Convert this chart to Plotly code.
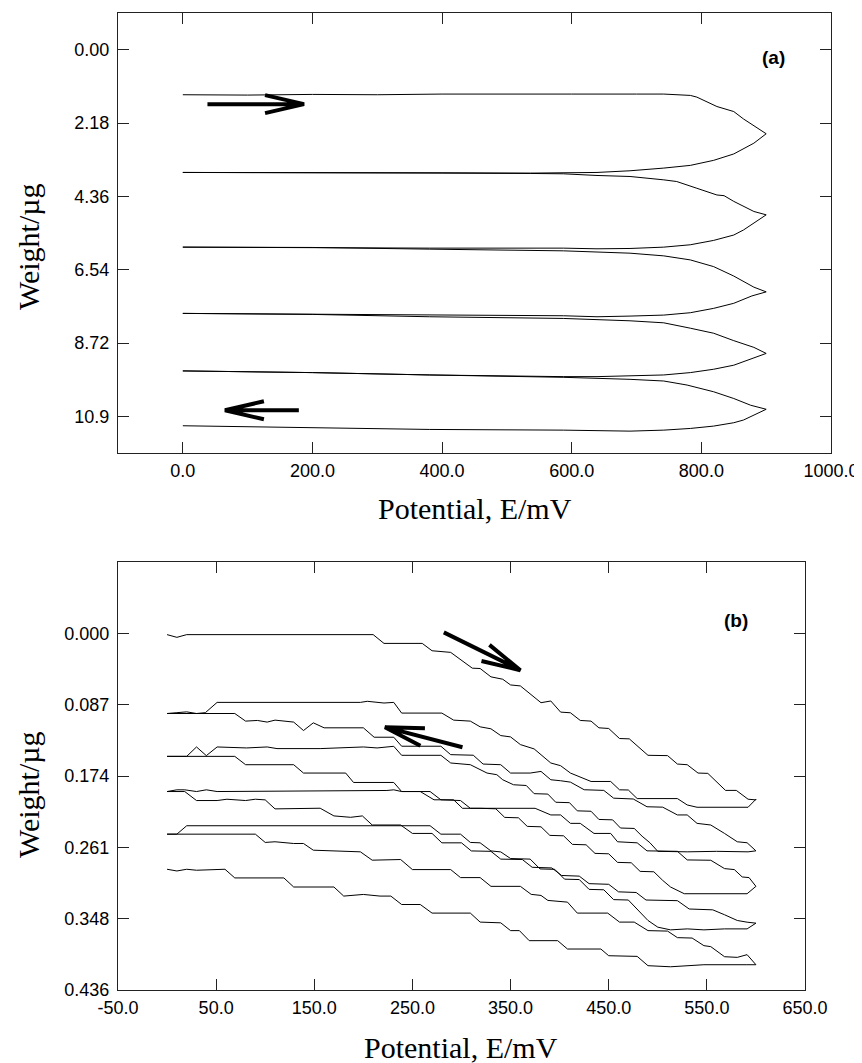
import math
import plotly.graph_objects as go

# ---------------- Panel (a): potential (mV) vs weight (ug) ----------------
a_fwd1_x = [0, 100, 200, 300, 400, 500, 600, 700, 742, 783, 793, 824, 850, 865, 900]
a_fwd1_y = [1.34, 1.35, 1.33, 1.34, 1.32, 1.33, 1.32, 1.32, 1.32, 1.36, 1.41, 1.69, 1.84, 2.06, 2.50]
a_ret1_x = [900, 881, 850, 819, 783, 742, 690, 639, 587, 536, 400, 200, 0]
a_ret1_y = [2.50, 2.78, 3.10, 3.29, 3.44, 3.52, 3.60, 3.65, 3.67, 3.67, 3.66, 3.66, 3.65]
a_fwd2_x = [0, 200, 400, 536, 587, 639, 690, 742, 762, 793, 824, 835, 850, 881, 900]
a_fwd2_y = [3.65, 3.66, 3.67, 3.68, 3.69, 3.74, 3.77, 3.87, 3.92, 4.12, 4.32, 4.34, 4.51, 4.81, 4.91]
a_ret2_x = [900, 865, 850, 819, 783, 742, 690, 639, 587, 381, 200, 0]
a_ret2_y = [4.91, 5.36, 5.51, 5.67, 5.80, 5.87, 5.91, 5.92, 5.90, 5.90, 5.88, 5.87]
a_fwd3_x = [0, 200, 381, 587, 690, 742, 783, 819, 850, 881, 900]
a_fwd3_y = [5.87, 5.88, 5.93, 5.98, 6.05, 6.13, 6.25, 6.45, 6.73, 7.06, 7.20]
a_ret3_x = [900, 883, 878, 850, 819, 783, 742, 690, 639, 587, 381, 0]
a_ret3_y = [7.20, 7.29, 7.32, 7.54, 7.69, 7.82, 7.89, 7.92, 7.94, 7.91, 7.88, 7.84]
a_fwd4_x = [0, 200, 381, 587, 690, 742, 783, 819, 850, 881, 900]
a_fwd4_y = [7.84, 7.87, 7.94, 7.99, 8.06, 8.12, 8.28, 8.43, 8.65, 8.85, 9.03]
a_ret4_x = [900, 865, 850, 819, 783, 742, 690, 639, 587, 381, 200, 0]
a_ret4_y = [9.03, 9.28, 9.38, 9.50, 9.60, 9.67, 9.70, 9.72, 9.72, 9.67, 9.60, 9.55]
a_fwd5_x = [0, 200, 381, 587, 690, 742, 778, 819, 850, 876, 900]
a_fwd5_y = [9.55, 9.60, 9.67, 9.74, 9.80, 9.85, 9.97, 10.17, 10.37, 10.57, 10.69]
a_ret5_x = [900, 865, 850, 819, 783, 742, 690, 587, 381, 200, 0]
a_ret5_y = [10.69, 11.01, 11.09, 11.19, 11.26, 11.31, 11.34, 11.31, 11.29, 11.24, 11.18]

a_xticks = [0, 200, 400, 600, 800, 1000]
a_xticktext = ["0.0", "200.0", "400.0", "600.0", "800.0", "1000.0"]
a_yticks = [0.0, 2.18, 4.36, 6.54, 8.72, 10.9]
a_yticktext = ["0.00", "2.18", "4.36", "6.54", "8.72", "10.9"]
a_xrange = [-100, 1000]
a_yrange = [11.99, -1.09]
a_arrows = [((38, 1.62), (187, 1.62)), ((179, 10.72), (65, 10.72))]

# ---------------- Panel (b) ----------------
b_f1_x = [0, 10, 20, 210, 221, 260, 270, 289, 311, 319, 330, 342, 350, 360, 381, 391, 401, 411, 421, 432,
          440, 450, 461, 471, 490, 510, 520, 530, 541, 551, 569, 580, 592, 600]
b_f1_y = [0.0016, 0.0049, 0.0016, 0.0016, 0.0123, 0.0123, 0.0213, 0.0233, 0.0426, 0.0430, 0.0532, 0.0561,
          0.0631, 0.0643, 0.0848, 0.0827, 0.0963, 0.0971, 0.1065, 0.1073, 0.1155, 0.1163, 0.1286, 0.1290,
          0.1491, 0.1495, 0.1598, 0.1606, 0.1708, 0.1712, 0.1920, 0.1920, 0.2028, 0.2036]
b_r1_x = [0, 10, 20, 30, 39, 51, 197, 204, 221, 231, 239, 280, 292, 309, 319, 330, 340, 350, 360, 374,
          391, 401, 411, 432, 452, 461, 470, 479, 520, 530, 540, 560, 575, 592, 600]
b_r1_y = [0.0980, 0.0970, 0.0960, 0.0980, 0.0970, 0.0844, 0.0844, 0.0831, 0.0852, 0.0844, 0.0975, 0.0975,
          0.1061, 0.1073, 0.1143, 0.1167, 0.1250, 0.1266, 0.1360, 0.1413, 0.1585, 0.1618, 0.1708, 0.1811,
          0.1811, 0.1913, 0.1915, 0.2020, 0.2020, 0.2098, 0.2126, 0.2118, 0.2126, 0.2126, 0.2028]
b_f2_x = [0, 69, 80, 92, 102, 110, 129, 139, 149, 160, 200, 211, 231, 239, 279, 289, 312, 322, 340, 350,
          370, 381, 391, 401, 411, 425, 445, 455, 475, 489, 505, 520, 530, 540, 554, 568, 581, 591, 600]
b_f2_y = [0.0980, 0.0980, 0.1073, 0.1065, 0.1085, 0.1061, 0.1085, 0.1188, 0.1094, 0.1155, 0.1155, 0.1270,
          0.1270, 0.1380, 0.1380, 0.1483, 0.1490, 0.1598, 0.1606, 0.1708, 0.1708, 0.1688, 0.1790, 0.1802,
          0.1819, 0.1912, 0.1920, 0.2015, 0.2025, 0.2120, 0.2125, 0.2220, 0.2220, 0.2323, 0.2343, 0.2446,
          0.2548, 0.2560, 0.2659]
b_r2_x = [0, 20, 30, 40, 51, 81, 102, 112, 156, 200, 214, 231, 239, 279, 289, 309, 326, 336, 342, 353,
          366, 374, 388, 396, 410, 418, 432, 440, 454, 462, 476, 484, 492, 500, 530, 560, 592, 600]
b_r2_y = [0.1504, 0.1504, 0.1389, 0.1495, 0.1389, 0.1401, 0.1389, 0.1409, 0.1409, 0.1389, 0.1401, 0.1381,
          0.1491, 0.1491, 0.1585, 0.1606, 0.1708, 0.1728, 0.1790, 0.1851, 0.1860, 0.1960, 0.1965, 0.2065,
          0.2070, 0.2170, 0.2175, 0.2275, 0.2280, 0.2380, 0.2385, 0.2480, 0.2560, 0.2665, 0.2671, 0.2665,
          0.2671, 0.2659]
b_f3_x = [0, 69, 80, 129, 139, 182, 190, 231, 239, 258, 272, 292, 301, 319, 375, 391, 401, 411, 421, 435,
          452, 459, 479, 489, 520, 530, 554, 568, 578, 586, 593, 600]
b_f3_y = [0.1504, 0.1504, 0.1606, 0.1606, 0.1708, 0.1708, 0.1823, 0.1823, 0.1934, 0.1934, 0.2035, 0.2035,
          0.2139, 0.2139, 0.2139, 0.2220, 0.2220, 0.2323, 0.2323, 0.2446, 0.2446, 0.2548, 0.2561, 0.2659,
          0.2665, 0.2770, 0.2774, 0.2876, 0.2888, 0.2978, 0.2986, 0.3093]
b_r3_x = [0, 10, 18, 30, 40, 51, 224, 231, 239, 268, 279, 299, 309, 319, 335, 344, 358, 367, 381, 390,
          404, 413, 427, 436, 450, 459, 473, 482, 496, 505, 513, 527, 591, 600]
b_r3_y = [0.1934, 0.1913, 0.1913, 0.1934, 0.1913, 0.1934, 0.1921, 0.1913, 0.1934, 0.1934, 0.2035, 0.2044,
          0.2139, 0.2139, 0.2145, 0.2250, 0.2255, 0.2360, 0.2365, 0.2470, 0.2475, 0.2580, 0.2585, 0.2690,
          0.2695, 0.2800, 0.2805, 0.2910, 0.2915, 0.3020, 0.3101, 0.3183, 0.3183, 0.3093]
b_f4_x = [0, 18, 30, 51, 61, 80, 90, 100, 110, 156, 170, 187, 199, 209, 238, 250, 270, 280, 300, 310,
          330, 340, 362, 372, 392, 402, 420, 430, 450, 460, 478, 488, 520, 532, 556, 568, 581, 591, 600]
b_f4_y = [0.1934, 0.1934, 0.2044, 0.2044, 0.2028, 0.2044, 0.2028, 0.2036, 0.2146, 0.2138, 0.2232, 0.2249,
          0.2232, 0.2343, 0.2343, 0.2446, 0.2446, 0.2561, 0.2561, 0.2660, 0.2665, 0.2760, 0.2765, 0.2860,
          0.2868, 0.2960, 0.2968, 0.3060, 0.3068, 0.3160, 0.3168, 0.3260, 0.3268, 0.3370, 0.3380, 0.3440,
          0.3510, 0.3531, 0.3543]
b_r4_x = [0, 10, 20, 268, 279, 299, 309, 319, 330, 340, 350, 370, 380, 395, 405, 420, 430, 445, 455, 470,
          480, 490, 500, 513, 530, 547, 568, 591, 600]
b_r4_y = [0.2455, 0.2455, 0.2352, 0.2352, 0.2455, 0.2455, 0.2556, 0.2561, 0.2660, 0.2672, 0.2753, 0.2760,
          0.2880, 0.2885, 0.3005, 0.3010, 0.3130, 0.3135, 0.3255, 0.3260, 0.3380, 0.3510, 0.3592, 0.3625,
          0.3613, 0.3625, 0.3613, 0.3613, 0.3543]
b_f5_x = [0, 90, 100, 110, 129, 139, 149, 197, 209, 221, 238, 250, 268, 289, 299, 319, 330, 360, 371, 381,
          388, 408, 418, 449, 461, 476, 490, 510, 520, 535, 547, 554, 568, 581, 591, 600]
b_f5_y = [0.2455, 0.2455, 0.2556, 0.2548, 0.2569, 0.2569, 0.2651, 0.2671, 0.2773, 0.2773, 0.2765, 0.2888,
          0.2884, 0.2888, 0.2986, 0.2986, 0.3093, 0.3093, 0.3191, 0.3204, 0.3265, 0.3286, 0.3420, 0.3420,
          0.3530, 0.3530, 0.3634, 0.3640, 0.3720, 0.3725, 0.3818, 0.3830, 0.3953, 0.3961, 0.3928, 0.4051]
b_r5_x = [0, 10, 20, 30, 41, 51, 59, 69, 119, 129, 170, 180, 190, 200, 217, 228, 239, 258, 270, 309,
          319, 340, 350, 359, 369, 398, 408, 442, 450, 479, 490, 513, 547, 590, 600]
b_r5_y = [0.2884, 0.2905, 0.2884, 0.2896, 0.2884, 0.2888, 0.2884, 0.2990, 0.2990, 0.3101, 0.3101, 0.3212,
          0.3204, 0.3192, 0.3212, 0.3212, 0.3315, 0.3315, 0.3420, 0.3420, 0.3530, 0.3539, 0.3634, 0.3634,
          0.3757, 0.3757, 0.3859, 0.3859, 0.3941, 0.3949, 0.4063, 0.4076, 0.4051, 0.4051, 0.4051]

b_xticks = [-50, 50, 150, 250, 350, 450, 550, 650]
b_xticktext = ["-50.0", "50.0", "150.0", "250.0", "350.0", "450.0", "550.0", "650.0"]
b_yticks = [0.0, 0.0872, 0.1744, 0.2616, 0.3488, 0.436]
b_yticktext = ["0.000", "0.087", "0.174", "0.261", "0.348", "0.436"]
b_xrange = [-50, 650]
b_yrange = [0.436, -0.0872]
b_arrows = [((282, -0.0012), (360, 0.0451)), ((301, 0.1393), (222, 0.1147))]

# ---------------- layout geometry (page pixels; page body has an 8 px margin) ----------------
OFF = 8
W, H = 862 - OFF, 1063 - OFF


def px_x(p):
    return (p - OFF) / W


def px_y(p):
    return 1 - (p - OFF) / H


a_dom_x = [px_x(118), px_x(831)]
a_dom_y = [px_y(453), px_y(13)]
b_dom_x = [px_x(118), px_x(805)]
b_dom_y = [px_y(990), px_y(562)]

fig = go.Figure()

a_x, a_y = [], []
for xs, ys in [(a_fwd1_x, a_fwd1_y), (a_ret1_x, a_ret1_y), (a_fwd2_x, a_fwd2_y), (a_ret2_x, a_ret2_y),
               (a_fwd3_x, a_fwd3_y), (a_ret3_x, a_ret3_y), (a_fwd4_x, a_fwd4_y), (a_ret4_x, a_ret4_y),
               (a_fwd5_x, a_fwd5_y), (a_ret5_x, a_ret5_y)]:
    a_x += xs
    a_y += ys
fig.add_trace(go.Scatter(x=a_x, y=a_y, mode="lines", line=dict(color="black", width=1),
                         xaxis="x", yaxis="y", showlegend=False, hoverinfo="skip"))

b_x, b_y = [], []
for (fx, fy), (rx, ry) in [((b_f1_x, b_f1_y), (b_r1_x, b_r1_y)), ((b_f2_x, b_f2_y), (b_r2_x, b_r2_y)),
                           ((b_f3_x, b_f3_y), (b_r3_x, b_r3_y)), ((b_f4_x, b_f4_y), (b_r4_x, b_r4_y)),
                           ((b_f5_x, b_f5_y), (b_r5_x, b_r5_y))]:
    b_x += fx + rx[::-1]
    b_y += fy + ry[::-1]
fig.add_trace(go.Scatter(x=b_x, y=b_y, mode="lines", line=dict(color="black", width=1),
                         xaxis="x2", yaxis="y2", showlegend=False, hoverinfo="skip"))


def arrow_path(tail, head, xr, yr, dx_dom, dy_dom, length=40, ang=13):
    sx = (dx_dom[1] - dx_dom[0]) * W / (xr[1] - xr[0])
    sy = -(dy_dom[1] - dy_dom[0]) * H / (yr[1] - yr[0])  # pixels down per data unit
    px = (head[0] - tail[0]) * sx
    py = (head[1] - tail[1]) * sy
    n = math.hypot(px, py)
    ux, uy = px / n, py / n
    pts = []
    for s in (1, -1):
        t = math.radians(ang) * s
        bx = ux * math.cos(t) - uy * math.sin(t)
        by = ux * math.sin(t) + uy * math.cos(t)
        pts.append((head[0] - length * bx / sx, head[1] - length * by / sy))
    return (f"M{tail[0]},{tail[1]} L{head[0]},{head[1]} "
            f"M{pts[0][0]},{pts[0][1]} L{head[0]},{head[1]} L{pts[1][0]},{pts[1][1]}")


shapes = []
for t, h in a_arrows:
    shapes.append(dict(type="path", xref="x", yref="y",
                       path=arrow_path(t, h, a_xrange, a_yrange, a_dom_x, a_dom_y),
                       line=dict(color="black", width=4)))
for t, h in b_arrows:
    shapes.append(dict(type="path", xref="x2", yref="y2",
                       path=arrow_path(t, h, b_xrange, b_yrange, b_dom_x, b_dom_y),
                       line=dict(color="black", width=4)))

tickfont = dict(family="Liberation Sans, Arial, sans-serif", size=18, color="black")
axis_common = dict(showline=True, linecolor="#222", linewidth=1.3, mirror="ticks", ticks="inside",
                   ticklen=11, tickwidth=1.2, tickcolor="#222", showgrid=False, zeroline=False,
                   tickfont=tickfont, tickmode="array", automargin=False)

fig.update_layout(
    width=W, height=H, margin=dict(l=0, r=0, t=0, b=0, pad=0, autoexpand=False),
    paper_bgcolor="white", plot_bgcolor="white", showlegend=False,
    xaxis=dict(domain=a_dom_x, range=a_xrange, tickvals=a_xticks, ticktext=a_xticktext,
               anchor="y", ticklabelstandoff=1, **axis_common),
    yaxis=dict(domain=a_dom_y, range=a_yrange, tickvals=a_yticks, ticktext=a_yticktext,
               anchor="x", ticklabelstandoff=4, **axis_common),
    xaxis2=dict(domain=b_dom_x, range=b_xrange, tickvals=b_xticks, ticktext=b_xticktext,
                anchor="y2", ticklabelstandoff=1, **axis_common),
    yaxis2=dict(domain=b_dom_y, range=b_yrange, tickvals=b_yticks, ticktext=b_yticktext,
                anchor="x2", ticklabelstandoff=4, **axis_common),
    shapes=shapes,
)

serif = dict(family="Liberation Serif, Times New Roman, serif", size=30, color="black")
bold = dict(family="Liberation Sans, Arial, sans-serif", size=19, color="black")
ann = dict(showarrow=False, xanchor="center", yanchor="middle")
fig.add_annotation(x=911, y=0.24, xref="x", yref="y", text="<b>(a)</b>", font=bold, **ann)
fig.add_annotation(x=580, y=-0.0155, xref="x2", yref="y2", text="<b>(b)</b>", font=bold, **ann)
fig.add_annotation(x=px_x(28), y=px_y(247), xref="paper", yref="paper", text="Weight/µg",
                   textangle=-90, font=serif, **ann)
fig.add_annotation(x=px_x(28), y=px_y(795), xref="paper", yref="paper", text="Weight/µg",
                   textangle=-90, font=serif, **ann)
fig.add_annotation(x=px_x(474.5), y=px_y(508), xref="paper", yref="paper", text="Potential, E/mV",
                   font=serif, **ann)
fig.add_annotation(x=px_x(461), y=px_y(1047), xref="paper", yref="paper", text="Potential, E/mV",
                   font=serif, **ann)

fig.write_html("out.html")
